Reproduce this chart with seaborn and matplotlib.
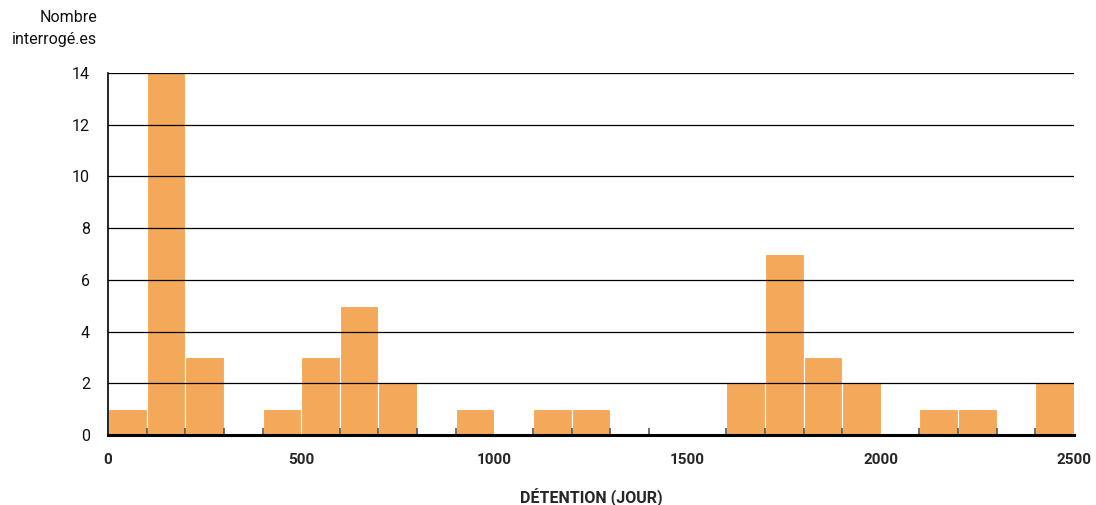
import numpy as np
import pandas as pd
import matplotlib
matplotlib.use("Agg")
import matplotlib.pyplot as plt
import seaborn as sns
from matplotlib.ticker import MultipleLocator

# Data: histogram bins (days) and counts
bin_edges = list(range(0, 2600, 100))
counts = [1, 14, 3, 0, 1, 3, 5, 2, 0, 1, 0, 1, 1, 0, 0, 0, 2, 7, 3, 2, 0, 1, 1, 0, 2]
x_ticks = [0, 500, 1000, 1500, 2000, 2500]
y_ticks = [0, 2, 4, 6, 8, 10, 12, 14]

centers = [(bin_edges[i] + bin_edges[i + 1]) / 2 for i in range(len(counts))]
df = pd.DataFrame({"detention": centers, "n": counts})

sns.set_theme(style="white")
plt.rcParams["font.family"] = ["Roboto", "DejaVu Sans"]

fig = plt.figure(figsize=(10.96, 5.05), dpi=100)
ax = fig.add_axes([108 / 1096, 1 - 435 / 505, (1074 - 108) / 1096, (435 - 73) / 505])

sns.histplot(data=df, x="detention", weights="n", bins=bin_edges, ax=ax,
             color="#F4A95A", alpha=1, edgecolor="white", linewidth=0.8)
ax.set_axisbelow(False)

ax.set_xlim(0, 2500)
ax.set_ylim(0, 14)
ax.set_yticks(y_ticks)
ax.set_xticks(x_ticks)
ax.xaxis.set_minor_locator(MultipleLocator(100))
for y in y_ticks[1:]:
    ax.axhline(y, color="black", lw=0.9, zorder=5)

ax.tick_params(axis="y", length=0, pad=13, labelsize=11.5, labelcolor="#111111")
ax.tick_params(axis="x", which="major", direction="out", length=7, width=1.5,
               color="black", pad=6, labelsize=11)
ax.tick_params(axis="x", which="minor", direction="in", length=5, width=1.2,
               color="#555555", bottom=True)
for lbl in ax.get_xticklabels():
    lbl.set_fontweight("bold")

for s in ["top", "right"]:
    ax.spines[s].set_visible(False)
ax.spines["left"].set_color("black")
ax.spines["left"].set_linewidth(1.2)
ax.spines["bottom"].set_color("black")
ax.spines["bottom"].set_linewidth(2.2)
ax.spines["bottom"].set_zorder(6)

ax.set_ylabel("")
ax.set_xlabel("DÉTENTION (JOUR)", fontsize=11.5, fontweight="bold", labelpad=15)

fig.text(97 / 1096, 1 - 10 / 505, "Nombre\ninterrogé.es", ha="right", va="top",
         fontsize=11.5, linespacing=1.6, color="#111111")

fig.savefig("out.png", dpi=100)
